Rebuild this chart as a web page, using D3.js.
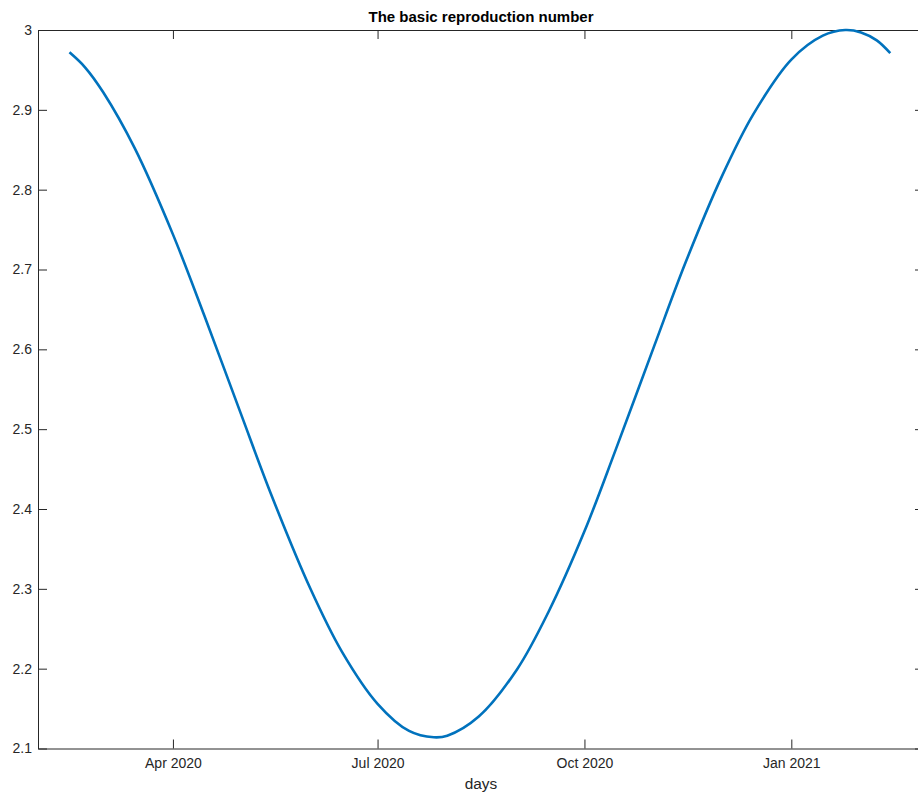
<!DOCTYPE html>
<html>
  <head>
    <title>The basic reproduction number</title>
    <meta charset="utf-8">
    <style>
      body { margin: 0; background-color: #fff; }
      svg { display: block; font-family: "Liberation Sans", Arial, sans-serif; }
      .axis path, .axis line { stroke: #262626; }
      .axis text { fill: #262626; font-size: 14px; }
    </style>
    <script src="https://cdnjs.cloudflare.com/ajax/libs/d3/7.8.5/d3.min.js"></script>
  </head>
  <body>
    <div id="chart"></div>
    <script>
      // values
      var dates = ['2020-02-15', '2020-02-22', '2020-03-01', '2020-03-15', '2020-04-01', '2020-04-15', '2020-05-01',
                   '2020-05-15', '2020-06-01', '2020-06-15', '2020-07-01', '2020-07-15', '2020-07-26',
                   '2020-08-01', '2020-08-15', '2020-09-01', '2020-09-15', '2020-10-01', '2020-10-15',
                   '2020-11-01', '2020-11-15', '2020-12-01', '2020-12-15', '2021-01-01', '2021-01-15',
                   '2021-01-25', '2021-02-01', '2021-02-08', '2021-02-14'];
      var r0 = [2.972, 2.953, 2.922, 2.852, 2.744, 2.642, 2.521,
                2.416, 2.301, 2.222, 2.156, 2.122, 2.114,
                2.116, 2.140, 2.199, 2.271, 2.372, 2.475,
                2.604, 2.709, 2.816, 2.894, 2.963, 2.993,
                3.000, 2.997, 2.987, 2.971];
      var xTicks = ['2020-04-01', '2020-07-01', '2020-10-01', '2021-01-01'];
      var yTicks = [2.1, 2.2, 2.3, 2.4, 2.5, 2.6, 2.7, 2.8, 2.9, 3];
      var xLimits = ['2020-02-01', '2021-03-01'];
      var yLimits = [2.1, 3];

      var W = 918, H = 798;
      var margin = { top: 30, right: -6, bottom: 49.5, left: 38 };
      var w = W - margin.left - margin.right, h = H - margin.top - margin.bottom;
      var parse = d3.utcParse('%Y-%m-%d');
      var fmt = d3.utcFormat('%b %Y');

      var data = dates.map(function(d, i) { return { t: parse(d), v: r0[i] }; });

      var x = d3.scaleUtc().domain(xLimits.map(parse)).range([0, w]);
      var y = d3.scaleLinear().domain(yLimits).range([h, 0]);

      var svg = d3.select('#chart').append('svg').attr('width', W).attr('height', H);
      var g = svg.append('g').attr('transform', 'translate(' + margin.left + ',' + margin.top + ')');

      var tickLen = 9;
      var xt = xTicks.map(parse);

      g.append('g').attr('class', 'axis').attr('transform', 'translate(0,' + h + ')')
        .call(d3.axisBottom(x).tickValues(xt).tickFormat(fmt).tickSizeInner(-tickLen).tickSizeOuter(0).tickPadding(10));
      g.append('g').attr('class', 'axis')
        .call(d3.axisTop(x).tickValues(xt).tickFormat('').tickSizeInner(-tickLen).tickSizeOuter(0));
      g.append('g').attr('class', 'axis')
        .call(d3.axisLeft(y).tickValues(yTicks).tickFormat(d3.format('~g')).tickSizeInner(-tickLen).tickSizeOuter(0).tickPadding(6));
      g.append('g').attr('class', 'axis').attr('transform', 'translate(' + w + ',0)')
        .call(d3.axisRight(y).tickValues(yTicks).tickFormat('').tickSizeInner(-tickLen).tickSizeOuter(0));

      var line = d3.line().x(function(d) { return x(d.t); }).y(function(d) { return y(d.v); })
        .curve(d3.curveCatmullRom.alpha(0.5));
      g.append('path').datum(data).attr('d', line)
        .attr('fill', 'none').attr('stroke', '#0072BD').attr('stroke-width', 2.6);

      svg.append('text').attr('x', margin.left + w / 2).attr('y', 22).attr('text-anchor', 'middle')
        .style('font-size', '15px').style('font-weight', 'bold').attr('fill', '#000')
        .text('The basic reproduction number');
      svg.append('text').attr('x', margin.left + w / 2).attr('y', 789).attr('text-anchor', 'middle')
        .style('font-size', '15.4px').attr('fill', '#262626')
        .text('days');
    </script>
  </body>
</html>
